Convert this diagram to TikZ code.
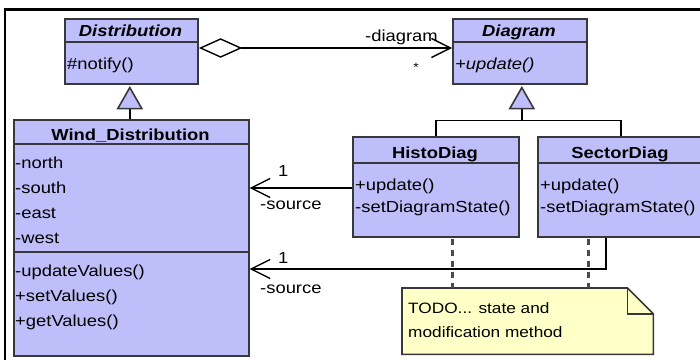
\documentclass[tikz,border=0pt]{standalone}
\usepackage{fontspec}
\setmainfont{Liberation Sans}
\newfontfamily\umlf[FakeStretch=1.15]{Liberation Sans}
\usetikzlibrary{calc,arrows.meta}
\definecolor{boxfill}{RGB}{190,190,250}
\definecolor{boxline}{RGB}{55,55,60}
\definecolor{notefill}{RGB}{255,255,200}
\definecolor{dashcol}{RGB}{75,75,75}
\tikzset{
  classbox/.style={draw=boxline, fill=boxfill, line width=1.6pt, rectangle, inner sep=0pt, anchor=north west},
  divline/.style={draw=boxline, line width=1.6pt},
  title/.style={anchor=base, inner sep=0pt, font=\umlf\fontsize{16}{16}\selectfont\bfseries},
  member/.style={anchor=base west, inner sep=0pt, font=\umlf\fontsize{16}{16}\selectfont},
  lbl/.style={anchor=base west, inner sep=0pt, font=\umlf\fontsize{16}{16}\selectfont},
  notetext/.style={anchor=base west, inner sep=0pt, font=\umlf\fontsize{15}{15}\selectfont},
  conn/.style={draw=black, line width=1.4pt},
  barb/.style={conn, -{Straight Barb[length=19pt,width=19pt]}},
  gen/.style={draw=boxline, line width=1.6pt, fill=boxfill},
  tracedash/.style={draw=dashcol, line width=3.2pt, dash pattern=on 6pt off 5pt},
  notebox/.style={draw=boxline, fill=notefill, line width=1.6pt}
}
\begin{document}
\begin{tikzpicture}[x=1pt,y=-1pt]
\clip (0,0) rectangle (700,359);
\fill[white] (0,0) rectangle (700,359);
\draw[line width=2.6pt] (5,362) -- (5,9.5) -- (703,9.5);

% classes
\node[classbox, minimum width=133pt, minimum height=65pt] (dist) at (64,18) {};
\node[classbox, minimum width=134pt, minimum height=65pt] (diag) at (452,18) {};
\node[classbox, minimum width=235pt, minimum height=236pt] (wind) at (13,119) {};
\node[classbox, minimum width=166pt, minimum height=100pt] (histo) at (352,136) {};
\node[classbox, minimum width=166pt, minimum height=100pt] (sector) at (537,136) {};

% dividers
\draw[divline] (dist.west |- 0,42) -- (dist.east |- 0,42);
\draw[divline] (diag.west |- 0,42) -- (diag.east |- 0,42);
\draw[divline] (wind.west |- 0,144) -- (wind.east |- 0,144);
\draw[divline] (wind.west |- 0,252) -- (wind.east |- 0,252);
\draw[divline] (histo.west |- 0,163) -- (histo.east |- 0,163);
\draw[divline] (sector.west |- 0,163) -- (sector.east |- 0,163);

% titles
\node[title] (distT) at (130.5,36) {\itshape Distribution};
\node[title] (diagT) at (519,36) {\itshape Diagram};
\node[title] (windT) at (130.5,140) {Wind\_Distribution};
\node[title] (histoT) at (435,158) {HistoDiag};
\node[title] (sectorT) at (620,158) {SectorDiag};

% members
\node[member] (m1) at (67,69) {\#notify()};
\node[member] (m2) at (455,69) {\itshape +update()};
\node[member] (w1) at (15,168) {-north};
\node[member] (w2) at (15,193) {-south};
\node[member] (w3) at (15,218) {-east};
\node[member] (w4) at (15,243) {-west};
\node[member] (w5) at (15,276) {-updateValues()};
\node[member] (w6) at (15,301) {+setValues()};
\node[member] (w7) at (15,326) {+getValues()};
\node[member] (h1) at (355,190) {+update()};
\node[member] (h2) at (355,212) {-setDiagramState()};
\node[member] (s1) at (540,190) {+update()};
\node[member] (s2) at (540,212) {-setDiagramState()};

% aggregation Distribution -> Diagram
\draw[conn, fill=white] ($(dist.north east)+(2,30)$) coordinate (dL) -- ++(20,-9) -- ++(20,9) coordinate (dR) -- ++(-20,9) -- cycle;
\draw[barb] (dR) -- (diag.west |- dR);
\node[lbl] (lblDiag) at (365,41) {-diagram};
\node[anchor=center, inner sep=0pt, font=\umlf\fontsize{12}{12}\selectfont] (lblStar) at (416,67) {*};

% generalization Wind_Distribution -> Distribution
\coordinate (t1) at ($(dist.south)+(-1.5,3)$);
\draw[conn] (wind.north -| t1) -- ($(t1)+(0,21)$);
\draw[gen] (t1) -- ++(12,21) -- ++(-24,0) -- cycle;

% generalization HistoDiag/SectorDiag -> Diagram
\coordinate (t2) at ($(diag.south)+(2,3)$);
\coordinate (j2) at ($(t2)+(0,33)$);
\draw[conn] ($(t2)+(0,21)$) -- (j2);
\draw[conn] (histo.north) |- (j2) -| (sector.north);
\draw[gen] (t2) -- ++(12,21) -- ++(-24,0) -- cycle;

% associations to Wind_Distribution
\draw[barb] (histo.west |- 0,188) -- (wind.east |- 0,188);
\node[lbl] (one1) at (278,176) {1};
\node[lbl] (src1) at (260,209) {-source};
\coordinate (s2a) at ($(sector.south west)+(69,0)$);
\draw[barb] (s2a) |- (wind.east |- 0,269);
\node[lbl] (one2) at (278,263) {1};
\node[lbl] (src2) at (260,293) {-source};

% note
\node[inner sep=0pt, minimum width=251pt, minimum height=66pt, anchor=north west] (note) at (402,288) {};
\draw[notebox] (note.north west) -- ($(note.north east)+(-26,0)$) -- ($(note.north east)+(0,26)$) -- (note.south east) -- (note.south west) -- cycle;
\draw[notebox, fill=none] ($(note.north east)+(-26,0)$) -- ++(0,26) -- ($(note.north east)+(0,26)$);
\node[notetext] (nt1) at (408,313) {TODO... state and};
\node[notetext] (nt2) at (408,337) {modification method};

% anchors of note
\coordinate (hd) at ($(histo.south)+(17,1)$);
\coordinate (sd) at ($(sector.south)+(-32,1)$);
\draw[tracedash] (hd) -- (hd |- note.north);
\draw[tracedash] (sd) -- (sd |- note.north);
\end{tikzpicture}
\end{document}
